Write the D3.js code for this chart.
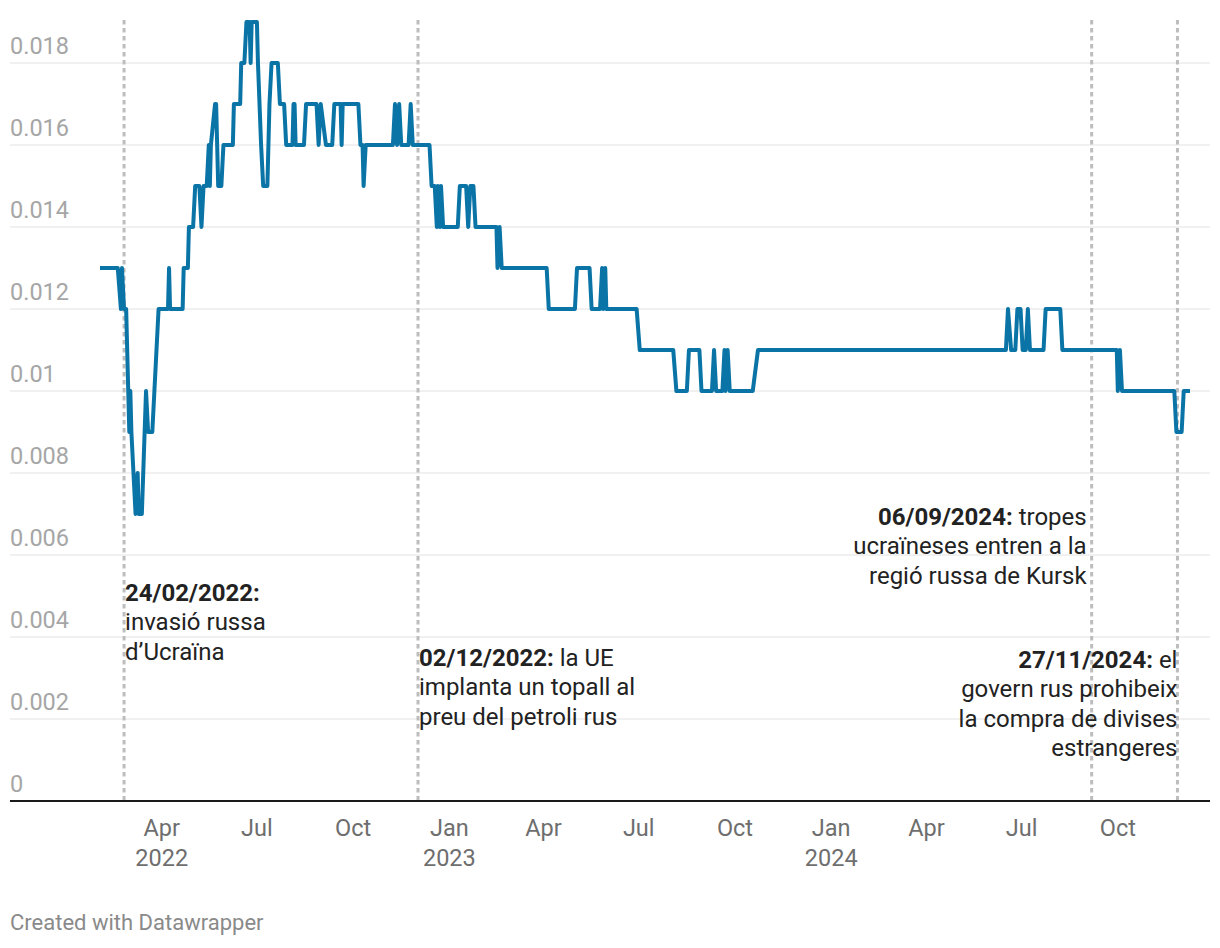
<!DOCTYPE html>
<html>
<head>
<meta charset="utf-8">
<script src="https://cdn.jsdelivr.net/npm/d3@7"></script>
<style>
  html, body { margin: 0; padding: 0; background: #fff; }
  svg { display: block; font-family: Roboto, "Noto Sans", sans-serif; }
</style>
</head>
<body>
<svg id="chart" width="1220" height="948"></svg>
<script>
// ---- data ----
const dates = [
  "2022-02-01","2022-02-18","2022-02-21","2022-02-22","2022-02-24","2022-02-26","2022-02-28",
  "2022-03-01","2022-03-02","2022-03-03","2022-03-05","2022-03-07","2022-03-09","2022-03-10",
  "2022-03-13","2022-03-17","2022-03-19","2022-03-23","2022-03-25","2022-03-27","2022-03-29",
  "2022-04-07","2022-04-08","2022-04-09","2022-04-21","2022-04-22","2022-04-26","2022-04-27",
  "2022-05-01","2022-05-03","2022-05-07","2022-05-09","2022-05-11","2022-05-14","2022-05-16",
  "2022-05-17","2022-05-18","2022-05-22","2022-05-23","2022-05-25","2022-05-28","2022-05-30",
  "2022-06-08","2022-06-09","2022-06-15","2022-06-16","2022-06-19","2022-06-21","2022-06-24",
  "2022-06-25","2022-06-26","2022-07-01","2022-07-02","2022-07-05","2022-07-07","2022-07-11",
  "2022-07-13","2022-07-15","2022-07-21","2022-07-23","2022-07-27","2022-07-29","2022-08-04",
  "2022-08-05","2022-08-06","2022-08-07","2022-08-15","2022-08-17","2022-08-27","2022-08-29",
  "2022-08-31","2022-09-05","2022-09-11","2022-09-13","2022-09-19","2022-09-20","2022-09-21",
  "2022-10-06","2022-10-08","2022-10-10","2022-10-11","2022-10-13","2022-11-08","2022-11-10",
  "2022-11-12","2022-11-14","2022-11-16","2022-11-23","2022-11-25","2022-11-27","2022-12-13",
  "2022-12-15","2022-12-18","2022-12-20","2022-12-21","2022-12-23","2022-12-24","2022-12-26",
  "2023-01-09","2023-01-11","2023-01-17","2023-01-19","2023-01-21","2023-01-24","2023-01-26",
  "2023-02-15","2023-02-16","2023-02-18","2023-02-20","2023-04-04","2023-04-06","2023-05-01",
  "2023-05-03","2023-05-15","2023-05-17","2023-05-25","2023-05-27","2023-05-28","2023-05-30",
  "2023-05-31","2023-06-29","2023-07-02","2023-08-03","2023-08-06","2023-08-16","2023-08-18",
  "2023-08-28","2023-08-30","2023-09-09","2023-09-11","2023-09-13","2023-09-19","2023-09-21",
  "2023-09-22","2023-09-24","2023-09-26","2023-10-18","2023-10-23","2024-06-16","2024-06-18",
  "2024-06-21","2024-06-25","2024-06-27","2024-06-30","2024-07-02","2024-07-05","2024-07-07",
  "2024-07-09","2024-07-22","2024-07-24","2024-08-07","2024-08-09","2024-09-30","2024-10-01",
  "2024-10-03","2024-10-05","2024-11-24","2024-11-26","2024-12-01","2024-12-03","2024-12-09"
];
const values = [
  0.013,0.013,0.012,0.013,0.012,0.012,0.010,
  0.009,0.010,0.009,0.008,0.007,0.008,0.007,
  0.007,0.010,0.009,0.009,0.010,0.011,0.012,
  0.012,0.013,0.012,0.012,0.013,0.013,0.014,
  0.014,0.015,0.015,0.014,0.015,0.015,0.016,
  0.015,0.016,0.017,0.017,0.015,0.015,0.016,
  0.016,0.017,0.017,0.018,0.018,0.019,0.019,
  0.018,0.019,0.019,0.018,0.016,0.015,0.015,
  0.017,0.018,0.018,0.017,0.017,0.016,0.016,
  0.017,0.017,0.016,0.016,0.017,0.017,0.016,
  0.017,0.016,0.016,0.017,0.017,0.016,0.017,
  0.017,0.016,0.016,0.015,0.016,0.016,0.017,
  0.016,0.017,0.016,0.016,0.017,0.016,0.016,
  0.015,0.015,0.014,0.015,0.014,0.015,0.014,
  0.014,0.015,0.015,0.014,0.015,0.015,0.014,
  0.014,0.013,0.014,0.013,0.013,0.012,0.012,
  0.013,0.013,0.012,0.012,0.013,0.012,0.013,
  0.012,0.012,0.011,0.011,0.010,0.010,0.011,
  0.011,0.010,0.010,0.011,0.010,0.010,0.011,
  0.010,0.011,0.010,0.010,0.011,0.011,0.012,
  0.011,0.011,0.012,0.012,0.011,0.011,0.012,
  0.011,0.011,0.012,0.012,0.011,0.011,0.010,
  0.011,0.010,0.010,0.009,0.009,0.010,0.010
];
const yTicks = [0, 0.002, 0.004, 0.006, 0.008, 0.01, 0.012, 0.014, 0.016, 0.018];
const yTickLabels = ["0","0.002","0.004","0.006","0.008","0.01","0.012","0.014","0.016","0.018"];
const xDomain = ["2022-02-01", "2024-12-09"];

const eventDates = ["2022-02-24", "2022-12-02", "2024-09-06", "2024-11-27"];
const eventTitles = ["24/02/2022:", "02/12/2022:", "06/09/2024:", "27/11/2024:"];
const eventLines = [
  ["", "invasió russa", "d’Ucraïna"],
  [" la UE", "implanta un topall al", "preu del petroli rus"],
  [" tropes", "ucraïneses entren a la", "regió russa de Kursk"],
  [" el", "govern rus prohibeix", "la compra de divises", "estrangeres"]
];
const eventAlign = ["start", "start", "end", "end"];
const eventTopY = [601, 666, 525, 668];
const eventDx = [1, 1, -5, 0];

// ---- chart ----
const parse = d3.utcParse("%Y-%m-%d");
const data = dates.map((d, i) => ({ date: parse(d), value: values[i] }));

const svg = d3.select("#chart");
const x = d3.scaleUtc().domain(xDomain.map(parse)).range([100, 1190]);
const y = d3.scaleLinear().domain([0, 0.019]).range([801, 22]);

// gridlines + y labels
const grid = svg.append("g");
grid.selectAll("line").data(yTicks.filter(t => t > 0)).join("line")
  .attr("x1", 10).attr("x2", 1210)
  .attr("y1", d => y(d)).attr("y2", d => y(d))
  .attr("stroke", "#e2e2e2").attr("stroke-width", 1);
grid.selectAll("text").data(yTicks).join("text")
  .attr("x", 10).attr("y", d => y(d) - 9)
  .attr("fill", "#a6a6a6").attr("font-size", 23.5)
  .text((d, i) => yTickLabels[i]);

// event vertical dotted lines
svg.append("g").selectAll("line").data(eventDates).join("line")
  .attr("x1", d => x(parse(d))).attr("x2", d => x(parse(d)))
  .attr("y1", 20).attr("y2", 804)
  .attr("stroke", "#bdbdbd").attr("stroke-width", 3)
  .attr("stroke-dasharray", "4.5,3.5");

// baseline
svg.append("line").attr("x1", 10).attr("x2", 1210)
  .attr("y1", y(0)).attr("y2", y(0))
  .attr("stroke", "#1a1a1a").attr("stroke-width", 2);

// x axis labels
const xTicks = x.ticks(d3.utcMonth.every(3));
const monthFmt = d3.utcFormat("%b");
const xg = svg.append("g");
xTicks.forEach((t, i) => {
  xg.append("text").attr("x", x(t)).attr("y", 836)
    .attr("text-anchor", "middle").attr("fill", "#6e6e6e").attr("font-size", 23.5)
    .text(monthFmt(t));
  if (i === 0 || t.getUTCMonth() === 0) {
    xg.append("text").attr("x", x(t)).attr("y", 866)
      .attr("text-anchor", "middle").attr("fill", "#6e6e6e").attr("font-size", 23.5)
      .text(t.getUTCFullYear());
  }
});

// line
svg.append("path").datum(data)
  .attr("fill", "none").attr("stroke", "#0a74a6").attr("stroke-width", 4)
  .attr("stroke-linejoin", "round")
  .attr("d", d3.line().x(d => x(d.date)).y(d => y(d.value)));

// annotations
const ag = svg.append("g");
eventDates.forEach((d, i) => {
  const ex = x(parse(d)) + eventDx[i];
  const t = ag.append("text").attr("x", ex).attr("y", eventTopY[i])
    .attr("text-anchor", eventAlign[i]).attr("fill", "#222").attr("font-size", 24);
  t.append("tspan").attr("font-weight", "bold").text(eventTitles[i]);
  t.append("tspan").text(eventLines[i][0]);
  for (let k = 1; k < eventLines[i].length; k++) {
    ag.append("text").attr("x", ex).attr("y", eventTopY[i] + 29.3 * k)
      .attr("text-anchor", eventAlign[i]).attr("fill", "#222").attr("font-size", 24)
      .text(eventLines[i][k]);
  }
});

// footer
svg.append("text").attr("x", 10).attr("y", 930)
  .attr("fill", "#8a8a8a").attr("font-size", 22)
  .text("Created with Datawrapper");
</script>
</body>
</html>
